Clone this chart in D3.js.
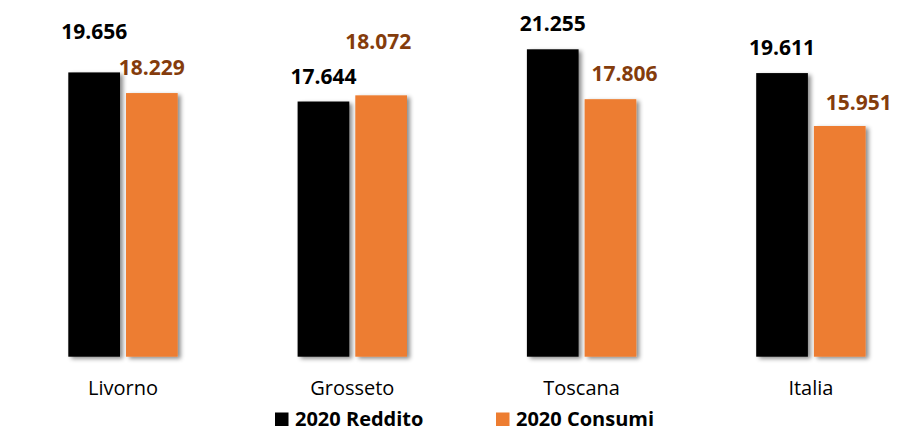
<!DOCTYPE html>
<html>
<head>
<meta charset="utf-8">
<script src="https://cdn.jsdelivr.net/npm/d3@7"></script>
<style>
  body { margin: 0; background: #fff; }
  svg { display: block; font-family: "Open Sans", sans-serif; }
</style>
</head>
<body>
<div id="chart"></div>
<script>
const categories = ["Livorno", "Grosseto", "Toscana", "Italia"];
const seriesNames = ["2020 Reddito", "2020 Consumi"];
const reddito = [19.656, 17.644, 21.255, 19.611];
const consumi = [18.229, 18.072, 17.806, 15.951];
const labelText = v => v.toFixed(3);

// small manual nudges for some data labels, like in the original
const labelNudge = [
  [[0, -15], [0, 0]],
  [[0, 0], [-3, -28]],
  [[0, 0], [14, 0]],
  [[0, 0], [19, 2]]
];

const width = 911, height = 432;
const baseY = 356.7;
const colors = ["#000000", "#ED7D31"];
const labelColors = ["#000000", "#843C0C"];

const svg = d3.select("#chart").append("svg")
  .attr("width", width).attr("height", height);

const defs = svg.append("defs");
const f = defs.append("filter").attr("id", "shadow")
  .attr("x", "-20%").attr("y", "-20%").attr("width", "150%").attr("height", "150%");
f.append("feDropShadow").attr("dx", 3).attr("dy", 2).attr("stdDeviation", 2)
  .attr("flood-color", "#000").attr("flood-opacity", 0.45);

const x = d3.scalePoint().domain(categories).range([8.35, 925.55]).padding(0.5);
const y = d3.scaleLinear().domain([0, 21.255]).range([baseY, 49.3]);

const barW = 51.7, gap = 6;
const series = [reddito, consumi];

// axis line
svg.append("line")
  .attr("x1", 8).attr("x2", 905).attr("y1", baseY).attr("y2", baseY)
  .attr("stroke", "#d9d9d9").attr("stroke-width", 1.5)
  .attr("filter", "url(#shadow)");

series.forEach((vals, s) => {
  const off = s === 0 ? -gap / 2 - barW : gap / 2;
  svg.append("g").selectAll("rect")
    .data(vals)
    .enter()
    .append("rect")
    .attr("x", (d, i) => x(categories[i]) + off)
    .attr("y", d => y(d))
    .attr("width", barW)
    .attr("height", d => baseY - y(d))
    .attr("fill", colors[s])
    .attr("filter", "url(#shadow)");

  svg.append("g").selectAll("text")
    .data(vals)
    .enter()
    .append("text")
    .attr("x", (d, i) => x(categories[i]) + off + barW / 2 + labelNudge[i][s][0])
    .attr("y", (d, i) => y(d) - 18 + labelNudge[i][s][1])
    .attr("text-anchor", "middle")
    .attr("font-size", 21)
    .attr("font-weight", "bold")
    .attr("fill", labelColors[s])
    .text(d => labelText(d));
});

// category labels
svg.append("g").selectAll("text")
  .data(categories)
  .enter()
  .append("text")
  .attr("x", d => x(d))
  .attr("y", 395)
  .attr("text-anchor", "middle")
  .attr("font-size", 20)
  .attr("fill", "#000")
  .text(d => d);

// legend (kept a bit higher so it isn't clipped at the bottom edge)
const legendX = [275, 496];
const leg = svg.append("g").selectAll("g")
  .data(seriesNames)
  .enter()
  .append("g")
  .attr("transform", (d, i) => `translate(${legendX[i]},0)`);
leg.append("rect")
  .attr("x", 0).attr("y", 412.5).attr("width", 13.5).attr("height", 13.5)
  .attr("fill", (d, i) => colors[i]);
leg.append("text")
  .attr("x", 20).attr("y", 425.5)
  .attr("font-size", 20)
  .attr("font-weight", "bold")
  .attr("fill", "#000")
  .text(d => d);
</script>
</body>
</html>
